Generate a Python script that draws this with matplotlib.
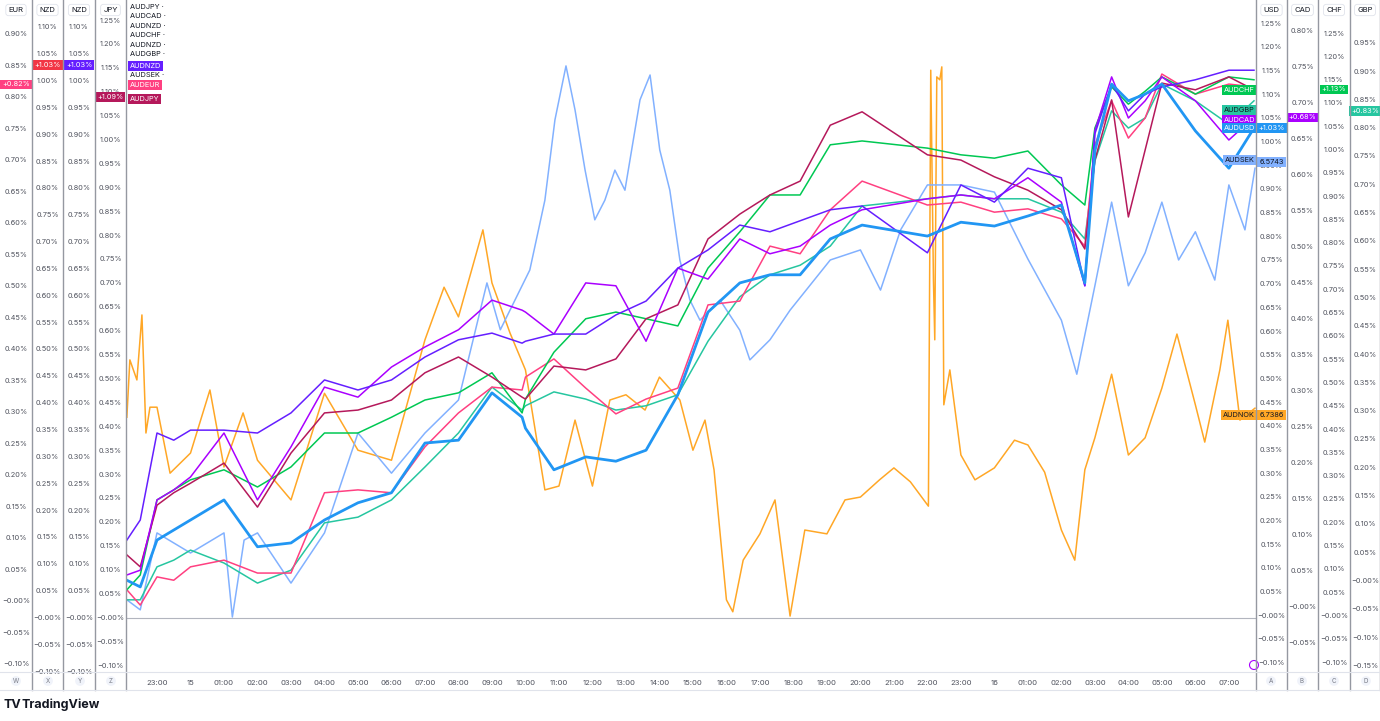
import matplotlib
matplotlib.use("Agg")
import matplotlib.pyplot as plt
from matplotlib.patches import Ellipse
from matplotlib.lines import Line2D

plt.rcParams['font.family'] = ['Inter', 'DejaVu Sans']

# ---------------- data (percent change) ----------------
T = [0.1, 0.5, 1, 1.5, 2, 3, 4, 5, 6, 7, 8, 9, 10, 11, 11.9, 12, 12.85, 13.8, 14.7, 15.6,
     16.55, 17.45, 18.4, 19.3, 20.2, 21.1, 22.05, 24, 25, 26, 27, 28, 28.7, 29, 29.5, 30,
     30.5, 31, 32, 33, 33.75]

audjpy = [0.132, 0.107, 0.236, 0.262, 0.282, 0.324, 0.232, 0.345, 0.429, 0.435, 0.456, 0.513,
          0.546, 0.504, 0.462, 0.458, 0.527, 0.519, 0.542, 0.626, 0.655, 0.793, 0.845, 0.885,
          0.914, 1.031, 1.059, 0.969, 0.958, 0.923, 0.895, 0.854, 0.772, 0.958, 1.084, 0.839,
          0.979, 1.119, 1.105, 1.132, 1.105]
audnzd = [0.163, 0.205, 0.387, 0.372, 0.393, 0.393, 0.387, 0.429, 0.498, 0.477, 0.498, 0.546,
          0.582, 0.596, 0.575, 0.579, 0.594, 0.594, 0.634, 0.663, 0.732, 0.770, 0.822, 0.808,
          0.831, 0.854, 0.862, 0.764, 0.906, 0.870, 0.941, 0.921, 0.695, 1.013, 1.117, 1.061,
          1.096, 1.111, 1.126, 1.146, 1.146]
audcad = [0.090, 0.100, 0.247, 0.268, 0.295, 0.387, 0.247, 0.358, 0.483, 0.462, 0.525, 0.567,
          0.603, 0.665, 0.644, 0.640, 0.594, 0.701, 0.695, 0.579, 0.732, 0.709, 0.793, 0.762,
          0.778, 0.822, 0.854, 0.877, 0.885, 0.877, 0.921, 0.870, 0.695, 1.019, 1.132, 1.046,
          1.082, 1.132, 1.082, 1.000, 1.048]
audchf = [0.059, 0.090, 0.247, 0.268, 0.289, 0.310, 0.274, 0.316, 0.387, 0.387, 0.420, 0.456,
          0.471, 0.513, 0.429, 0.458, 0.556, 0.626, 0.640, 0.626, 0.611, 0.732, 0.808, 0.885,
          0.885, 0.990, 0.998, 0.983, 0.969, 0.962, 0.977, 0.906, 0.864, 1.025, 1.111, 1.075,
          1.102, 1.132, 1.096, 1.132, 1.126]
audgbp = [0.038, 0.038, 0.107, 0.121, 0.142, 0.115, 0.073, 0.100, 0.199, 0.211, 0.247, 0.316,
          0.387, 0.483, 0.435, 0.444, 0.473, 0.458, 0.435, 0.444, 0.467, 0.579, 0.672, 0.718,
          0.738, 0.778, 0.862, 0.877, 0.885, 0.877, 0.877, 0.849, 0.793, 0.956, 1.061, 1.025,
          1.046, 1.117, 1.082, 1.033, 1.082]
audeur = [0.059, 0.027, 0.086, 0.079, 0.107, 0.121, 0.094, 0.094, 0.262, 0.268, 0.262, 0.358,
          0.429, 0.483, 0.477, 0.504, 0.542, 0.481, 0.427, 0.458, 0.481, 0.655, 0.663, 0.778,
          0.762, 0.854, 0.914, 0.864, 0.870, 0.849, 0.856, 0.835, 0.778, 0.990, 1.082, 1.004,
          1.046, 1.138, 1.096, 1.117, 1.111]
audusd = [0.079, 0.065, 0.163, 0.184, 0.205, 0.247, 0.149, 0.157, 0.205, 0.241, 0.262, 0.366,
          0.372, 0.471, 0.420, 0.397, 0.310, 0.337, 0.328, 0.351, 0.467, 0.640, 0.701, 0.718,
          0.718, 0.793, 0.822, 0.799, 0.828, 0.820, 0.841, 0.864, 0.701, 0.977, 1.117, 1.082,
          1.096, 1.117, 1.019, 0.941, 1.025]

T_sek = [0.1, 0.5, 1, 2, 3, 3.25, 3.6, 4, 5, 6, 7, 8, 9, 10, 10.85, 11.25, 12.13, 12.58, 12.88,
         13.21, 13.48, 13.78, 14.07, 14.37, 14.67, 14.97, 15.42, 15.72, 16.01, 16.31, 16.61,
         16.91, 17.21, 17.81, 18.4, 18.7, 19.3, 19.9, 21.1, 22.0, 22.6, 23.2, 24.0, 25.0, 26.0,
         27.0, 28.0, 28.46, 29.0, 29.5, 30.0, 30.5, 31.0, 31.5, 32.0, 32.58, 33.0, 33.48, 33.78]
audsek = [0.038, 0.017, 0.178, 0.136, 0.178, 0.002, 0.163, 0.178, 0.073, 0.178, 0.387, 0.303,
          0.387, 0.456, 0.701, 0.603, 0.728, 0.874, 1.042, 1.155, 1.063, 0.937, 0.833, 0.874,
          0.937, 0.895, 1.084, 1.136, 0.979, 0.895, 0.749, 0.665, 0.623, 0.665, 0.602, 0.540,
          0.582, 0.644, 0.749, 0.770, 0.686, 0.812, 0.906, 0.906, 0.891, 0.751, 0.623, 0.510,
          0.695, 0.870, 0.695, 0.764, 0.870, 0.749, 0.808, 0.707, 0.906, 0.812, 0.941]

T_nok = [0.1, 0.19, 0.4, 0.55, 0.67, 0.79, 1.0, 1.39, 2.0, 2.58, 3.0, 3.57, 4.0, 5.0, 6.0, 7.0,
         8.0, 9.0, 9.57, 10.0, 10.73, 11.0, 11.54, 12.0, 12.58, 13.0, 13.48, 14.0, 14.52, 15.0,
         15.57, 16.0, 16.61, 17.0, 17.36, 17.63, 18.0, 18.19, 18.5, 19.0, 19.45, 19.9, 20.34,
         21.0, 21.54, 22.0, 22.57, 23.0, 23.49, 24.03, 24.1, 24.18, 24.22, 24.28, 24.37, 24.43,
         24.49, 24.67, 25.0, 25.42, 26.0, 26.6, 27.0, 27.5, 28.0, 28.4, 28.7, 29.0, 29.5, 30.0,
         30.5, 31.0, 31.45, 32.0, 32.28, 32.73, 32.97, 33.33, 33.78]
audnok = [0.420, 0.540, 0.498, 0.634, 0.387, 0.441, 0.441, 0.303, 0.345, 0.477, 0.316, 0.429,
          0.330, 0.247, 0.470, 0.351, 0.330, 0.582, 0.692, 0.630, 0.812, 0.701, 0.596, 0.519,
          0.268, 0.276, 0.414, 0.276, 0.456, 0.467, 0.435, 0.504, 0.456, 0.351, 0.414, 0.310,
          0.038, 0.013, 0.121, 0.176, 0.247, 0.004, 0.184, 0.176, 0.247, 0.253, 0.289, 0.314,
          0.285, 0.234, 1.146, 0.707, 0.582, 1.132, 1.126, 1.153, 0.446, 0.519, 0.341, 0.289,
          0.314, 0.372, 0.362, 0.305, 0.184, 0.121, 0.310, 0.377, 0.510, 0.341, 0.377, 0.481,
          0.594, 0.446, 0.368, 0.519, 0.623, 0.414, 0.439]

tick_pos = list(range(1, 34))
tick_lbl = ["23:00", "15"] + [f"{h:02d}:00" for h in range(1, 24)] + ["16"] + \
           [f"{h:02d}:00" for h in range(1, 8)]

C_JPY, C_NZD, C_CAD, C_CHF = "#b5195b", "#651fff", "#aa00ff", "#00c853"
C_GBP, C_EUR, C_USD, C_SEK, C_NOK = "#26c6a0", "#ff4081", "#2196f3", "#82b1ff", "#ffa726"
C_RED = "#f23645"

# ---------------- figure ----------------
W, H = 1380, 721
fig = plt.figure(figsize=(W / 100, H / 100), dpi=100)
TOP, BOT = 0, 672


def fr(x0, x1, y0=TOP, y1=BOT):
    return [x0 / W, 1 - y1 / H, (x1 - x0) / W, (y1 - y0) / H]


ax = fig.add_axes(fr(126, 1256))
ax.set_xlim(0.0746, 33.81)
ax.set_ylim(-0.1130, 1.2929)
for s in ax.spines.values():
    s.set_visible(False)
ax.set_yticks([])
ax.set_xticks(tick_pos)
ax.set_xticklabels(tick_lbl, fontsize=5.5, color="#50535e")
ax.tick_params(axis="x", length=0, pad=6)
ax.axhline(0, color="#b2b5be", lw=0.8, zorder=1)

lw = 1.1
ax.plot(T_nok, audnok, color=C_NOK, lw=lw, zorder=2)
ax.plot(T_sek, audsek, color=C_SEK, lw=lw, zorder=2)
ax.plot(T, audgbp, color=C_GBP, lw=lw, zorder=3)
ax.plot(T, audeur, color=C_EUR, lw=lw, zorder=3)
ax.plot(T, audusd, color=C_USD, lw=2.0, zorder=4)
ax.plot(T, audchf, color=C_CHF, lw=lw, zorder=3)
ax.plot(T, audjpy, color=C_JPY, lw=lw, zorder=3)
ax.plot(T, audcad, color=C_CAD, lw=lw, zorder=3)
ax.plot(T, audnzd, color=C_NZD, lw=lw, zorder=3)

# ---------------- price scales ----------------
scales = [  # name, x0, x1, ymin, ymax, ticks(top,bottom)
    ("EUR", 0, 32, -0.1127, 0.954, 0.90, -0.10),
    ("NZD", 32, 63, -0.1006, 1.1508, 1.10, -0.10),
    ("NZD", 63, 95, -0.1006, 1.1508, 1.10, -0.10),
    ("JPY", 95, 126, -0.1130, 1.2929, 1.25, -0.10),
    ("USD", 1256, 1287, -0.1189, 1.300, 1.25, -0.10),
    ("CAD", 1287, 1318, -0.0903, 0.843, 0.80, -0.05),
    ("CHF", 1318, 1350, -0.1202, 1.3219, 1.25, -0.10),
    ("GBP", 1350, 1380, -0.1608, 1.0265, 0.95, -0.15),
]
sax = {}
for i, (name, x0, x1, lo, hi, tt, tb) in enumerate(scales):
    a = fig.add_axes(fr(x0, x1))
    a.set_xlim(0, 1)
    a.set_ylim(lo, hi)
    a.axis("off")
    sax[i] = a
    n = int(round((tt - tb) / 0.05))
    for k in range(n + 1):
        v = round(tt - k * 0.05, 2)
        if abs(v) < 1e-9:
            s = "\u22120.00%"
        elif v < 0:
            s = f"\u2212{abs(v):.2f}%"
        else:
            s = f"{v:.2f}%"
        a.text(0.5, v, s, ha="center", va="center", fontsize=5.3, color="#50535e")
    fig.text((x0 + x1) / 2 / W, 1 - 10 / H, name, ha="center", va="center", fontsize=5.5,
             color="#131722",
             bbox=dict(boxstyle="round,pad=0.35", fc="white", ec="#e0e3eb", lw=0.6))
    fig.add_artist(Line2D([x1 / W] * 2, [1 - 690 / H, 1], color="#9598a1", lw=1.0))

fig.add_artist(Line2D([1256 / W] * 2, [1 - 690 / H, 1], color="#9598a1", lw=1.0))
fig.add_artist(Line2D([0, 1], [1 - 672 / H] * 2, color="#e0e3eb", lw=0.8))
fig.add_artist(Line2D([0, 1], [1 - 690 / H] * 2, color="#e0e3eb", lw=0.8))


def tag(a, x, v, s, fc, tc="white", ha="center"):
    a.text(x, v, s, ha=ha, va="center", fontsize=5.3, color=tc,
           bbox=dict(boxstyle="square,pad=0.25", fc=fc, ec="none"), zorder=10)


tag(sax[0], 0.5, 0.82, "+0.82%", C_EUR)
tag(sax[1], 0.5, 1.03, "+1.03%", C_RED)
tag(sax[2], 0.5, 1.03, "+1.03%", C_NZD)
tag(sax[3], 0.5, 1.09, "+1.09%", C_JPY)
tag(sax[4], 0.5, 1.03, "+1.03%", C_USD)
tag(sax[5], 0.5, 0.68, "+0.68%", C_CAD)
tag(sax[6], 0.5, 1.13, "+1.13%", C_CHF)
tag(sax[7], 0.5, 0.83, "+0.83%", C_GBP)

# right side series tags inside main pane
xr = 33.78
tag(ax, xr, 1.105, "AUDCHF", C_CHF, ha="right")
tag(ax, xr, 1.063, "AUDGBP", C_GBP, tc="#131722", ha="right")
tag(ax, xr, 1.042, "AUDCAD", C_CAD, ha="right")
tag(ax, xr, 1.025, "AUDUSD", C_USD, ha="right")
tag(ax, xr, 0.958, "AUDSEK", C_SEK, tc="#131722", ha="right")
tag(ax, xr, 0.424, "AUDNOK", C_NOK, tc="#131722", ha="right")
tag(sax[4], 0.5, 0.958, "6.5743", C_SEK, tc="#131722")
tag(sax[4], 0.5, 0.424, "6.7386", C_NOK, tc="#131722")

# legend (top-left)
leg = ["AUDJPY", "AUDCAD", "AUDNZD", "AUDCHF", "AUDNZD", "AUDGBP"]
for k, s in enumerate(leg):
    fig.text(130 / W, 1 - (7 + 9.4 * k) / H, s + " \u00b7", fontsize=5.3, color="#131722",
             va="center")
fig.text(130 / W, 1 - 66 / H, "AUDNZD", fontsize=5.3, color="white", va="center",
         bbox=dict(boxstyle="square,pad=0.25", fc=C_NZD, ec="none"))
fig.text(130 / W, 1 - 75 / H, "AUDSEK \u00b7", fontsize=5.3, color="#131722", va="center")
fig.text(130 / W, 1 - 85 / H, "AUDEUR", fontsize=5.3, color="white", va="center",
         bbox=dict(boxstyle="square,pad=0.25", fc=C_EUR, ec="none"))
fig.text(130 / W, 1 - 99 / H, "AUDJPY", fontsize=5.3, color="white", va="center",
         bbox=dict(boxstyle="square,pad=0.25", fc=C_JPY, ec="none"))

# scale letters in the bottom band
for s, x in zip("WXYZABCD", [16, 48, 80, 111, 1271, 1302, 1334, 1366]):
    fig.text(x / W, 1 - 681 / H, s, ha="center", va="center", fontsize=4.5, color="#787b86",
             bbox=dict(boxstyle="circle,pad=0.3", fc="#f0f3fa", ec="none"))
fig.add_artist(Ellipse((1254 / W, 1 - 665 / H), 9 / W, 9 / H, fc="white", ec=C_CAD, lw=0.8))

fig.text(3 / W, 1 - 705 / H, "TV", fontsize=9, fontweight="bold", color="#131722", va="center")
fig.text(22 / W, 1 - 705 / H, "TradingView", fontsize=9, fontweight="bold", color="#131722",
         va="center")

fig.savefig("out.png", dpi=100, facecolor="white")
